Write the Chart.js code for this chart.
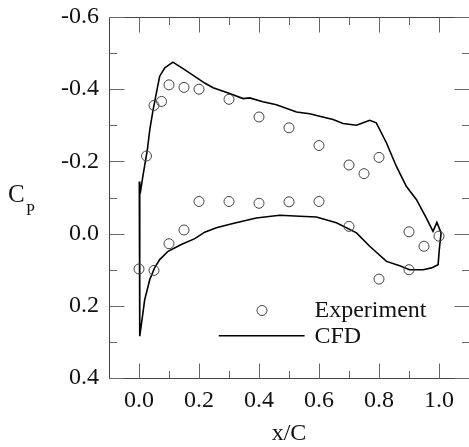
<!DOCTYPE html>
<html>
<head>
<meta charset="utf-8">
<script src="https://cdn.jsdelivr.net/npm/chart.js@4.4.1/dist/chart.umd.min.js"></script>
<style>
  html, body { margin: 0; padding: 0; background: #fff; overflow: hidden; }
  #wrap { width: 469px; height: 447px; }
</style>
</head>
<body>
<div id="wrap"><canvas id="cp" width="469" height="447"></canvas></div>
<script>
// Surface pressure coefficient: wind-tunnel measurements
const expX  = [0.025, 0.05, 0.075, 0.10, 0.15, 0.20, 0.30, 0.40, 0.50, 0.60, 0.70, 0.75, 0.80,
               0.00, 0.05, 0.10, 0.15, 0.20, 0.30, 0.40, 0.50, 0.60, 0.70, 0.80, 0.90, 0.90, 0.95, 1.00];
const expCp = [-0.215, -0.355, -0.366, -0.412, -0.405, -0.400, -0.372, -0.323, -0.293, -0.244, -0.190, -0.166, -0.211,
                0.098, 0.102, 0.028, -0.010, -0.089, -0.089, -0.084, -0.088, -0.089, -0.020, 0.126, 0.100, -0.005, 0.035, 0.007];

// Surface pressure coefficient: CFD, traced around the section (upper TE -> LE -> lower TE)
const cfdX  = [1.007, 0.993, 0.980, 0.958, 0.925, 0.891, 0.858, 0.825, 0.791, 0.769, 0.747, 0.725,
               0.680, 0.647, 0.602, 0.569, 0.525, 0.458, 0.413, 0.369, 0.347, 0.302, 0.247, 0.219,
               0.152, 0.113, 0.086, 0.069, 0.058, 0.047, 0.036, 0.028, 0.013, 0.006, 0.001, 0.002,
               0.003, 0.011, 0.019, 0.036, 0.052, 0.069, 0.097, 0.141, 0.186, 0.219, 0.258, 0.313,
               0.391, 0.469, 0.536, 0.591, 0.658, 0.725, 0.769, 0.825, 0.869, 0.902, 0.947, 0.975,
               0.997, 1.001, 1.007];
const cfdCp = [-0.002, -0.031, -0.006, -0.043, -0.094, -0.131, -0.186, -0.251, -0.307, -0.314, -0.307, -0.300,
               -0.305, -0.316, -0.325, -0.332, -0.337, -0.357, -0.365, -0.376, -0.374, -0.388, -0.404, -0.417,
               -0.454, -0.475, -0.459, -0.436, -0.390, -0.343, -0.288, -0.233, -0.159, -0.122, -0.144, 0.072,
                0.284, 0.233, 0.183, 0.127, 0.095, 0.072, 0.049, 0.030, 0.014, -0.004, -0.016, -0.028,
               -0.043, -0.051, -0.048, -0.046, -0.030, -0.002, 0.035, 0.077, 0.089, 0.100, 0.100, 0.095,
                0.086, 0.044, -0.002];

// Axis ticks
const xTickVals   = [0.0, 0.2, 0.4, 0.6, 0.8, 1.0];
const xTickLabels = ['0.0', '0.2', '0.4', '0.6', '0.8', '1.0'];
const xMinorVals  = [0.1, 0.3, 0.5, 0.7, 0.9];
const yTickVals   = [-0.6, -0.4, -0.2, 0.0, 0.2, 0.4];
const yTickLabels = ['-0.6', '-0.4', '-0.2', '0.0', '0.2', '0.4'];
const yMinorVals  = [-0.5, -0.3, -0.1, 0.1, 0.3];

const seriesNames = ['Experiment', 'CFD'];

const SERIF = '"Liberation Serif", "Times New Roman", serif';
const INK = '#111';

const toPts = (xs, ys) => xs.map((x, i) => ({ x: x, y: ys[i] }));

// Box frame with inward-pointing major/minor tick marks on all four sides
const frameTicks = {
  id: 'frameTicks',
  afterDraw(chart) {
    const { ctx, chartArea: a, scales: { x, y } } = chart;
    const L = Math.round(a.left) + 0.5, T = Math.round(a.top) + 0.5;
    const R = Math.round(a.right) + 0.5, B = Math.round(a.bottom) + 0.5;
    ctx.save();
    ctx.lineWidth = 1;
    ctx.strokeStyle = '#444';
    ctx.beginPath();
    ctx.moveTo(L, T); ctx.lineTo(R, T);
    ctx.moveTo(L, T); ctx.lineTo(L, B);
    ctx.moveTo(L, B); ctx.lineTo(R, B);
    if (R < chart.width) { ctx.moveTo(R, T); ctx.lineTo(R, B); }
    ctx.stroke();
    ctx.strokeStyle = '#666';
    const MAJ = 15, MIN = 7.5;
    ctx.beginPath();
    const xMarks = xTickVals.map(v => [v, MAJ]).concat(xMinorVals.map(v => [v, MIN]));
    xMarks.forEach(([v, len]) => {
      const px = Math.round(x.getPixelForValue(v)) + 0.5;
      ctx.moveTo(px, B); ctx.lineTo(px, B - len);
      ctx.moveTo(px, T); ctx.lineTo(px, T + len);
    });
    const yMarks = yTickVals.map(v => [v, MAJ]).concat(yMinorVals.map(v => [v, MIN]));
    yMarks.forEach(([v, len]) => {
      const py = Math.round(y.getPixelForValue(v)) + 0.5;
      ctx.moveTo(L, py); ctx.lineTo(L + len, py);
      ctx.moveTo(R, py); ctx.lineTo(R - len, py);
    });
    ctx.stroke();
    ctx.restore();
  }
};

// Axis titles: "x/C" and C with subscript P
const axisTitles = {
  id: 'axisTitles',
  afterDraw(chart) {
    const { ctx, chartArea: a } = chart;
    ctx.save();
    ctx.fillStyle = INK;
    ctx.textBaseline = 'alphabetic';
    ctx.textAlign = 'center';
    ctx.font = '24px ' + SERIF;
    ctx.fillText('x/C', (a.left + a.right) / 2, a.bottom + 62);
    const midY = (a.top + a.bottom) / 2;
    ctx.textAlign = 'left';
    ctx.font = '25px ' + SERIF;
    ctx.fillText('C', 8, midY + 4);
    ctx.font = '16px ' + SERIF;
    ctx.fillText('P', 26, midY + 17);
    ctx.restore();
  }
};

// In-plot legend anchored in data coordinates
const innerLegend = {
  id: 'innerLegend',
  afterDraw(chart) {
    const { ctx, scales: { x, y } } = chart;
    const symX = x.getPixelForValue(0.41);
    const lineX0 = x.getPixelForValue(0.266), lineX1 = x.getPixelForValue(0.552);
    const textX = x.getPixelForValue(0.585);
    const row1 = y.getPixelForValue(0.213), row2 = y.getPixelForValue(0.283);
    ctx.save();
    ctx.strokeStyle = '#444';
    ctx.lineWidth = 1;
    ctx.beginPath();
    ctx.arc(symX, row1, 5, 0, Math.PI * 2);
    ctx.stroke();
    ctx.strokeStyle = '#000';
    ctx.lineWidth = 1.6;
    ctx.beginPath();
    ctx.moveTo(lineX0, row2); ctx.lineTo(lineX1, row2);
    ctx.stroke();
    ctx.fillStyle = INK;
    ctx.font = '24px ' + SERIF;
    ctx.textAlign = 'left';
    ctx.textBaseline = 'alphabetic';
    ctx.fillText(seriesNames[0], textX, row1 + 7);
    ctx.fillText(seriesNames[1], textX, row2 + 7);
    ctx.restore();
  }
};

new Chart(document.getElementById('cp'), {
  type: 'scatter',
  data: {
    datasets: [
      {
        label: seriesNames[0],
        data: toPts(expX, expCp),
        showLine: false,
        pointStyle: 'circle',
        pointRadius: 5,
        pointBorderWidth: 1,
        pointBorderColor: '#444',
        pointBackgroundColor: 'rgba(0,0,0,0)'
      },
      {
        label: seriesNames[1],
        data: toPts(cfdX, cfdCp),
        showLine: true,
        tension: 0,
        borderColor: '#000',
        borderWidth: 1.6,
        pointRadius: 0,
        fill: false
      }
    ]
  },
  options: {
    responsive: false,
    animation: false,
    layout: { autoPadding: false, padding: { top: 17, right: 0, bottom: 0, left: 0 } },
    plugins: { legend: { display: false }, tooltip: { enabled: false } },
    scales: {
      x: {
        type: 'linear',
        min: -0.1,
        max: 1.1,
        grid: { display: false, drawTicks: false },
        border: { display: false },
        afterBuildTicks: s => { s.ticks = xTickVals.map(v => ({ value: v })); },
        afterFit: s => { s.height = 69; s.paddingLeft = 0; s.paddingRight = 0; },
        ticks: {
          autoSkip: false,
          maxRotation: 0,
          padding: 8,
          color: INK,
          font: { family: SERIF, size: 24 },
          callback: (v, i) => xTickLabels[i]
        }
      },
      y: {
        type: 'linear',
        reverse: true,
        min: -0.6,
        max: 0.4,
        grid: { display: false, drawTicks: false },
        border: { display: false },
        afterBuildTicks: s => { s.ticks = yTickVals.map(v => ({ value: v })); },
        afterFit: s => { s.width = 109; s.paddingTop = 0; s.paddingBottom = 0; },
        ticks: {
          autoSkip: false,
          padding: 10,
          color: INK,
          font: { family: SERIF, size: 24 },
          callback: (v, i) => yTickLabels[i]
        }
      }
    }
  },
  plugins: [frameTicks, axisTitles, innerLegend]
});
</script>
</body>
</html>
